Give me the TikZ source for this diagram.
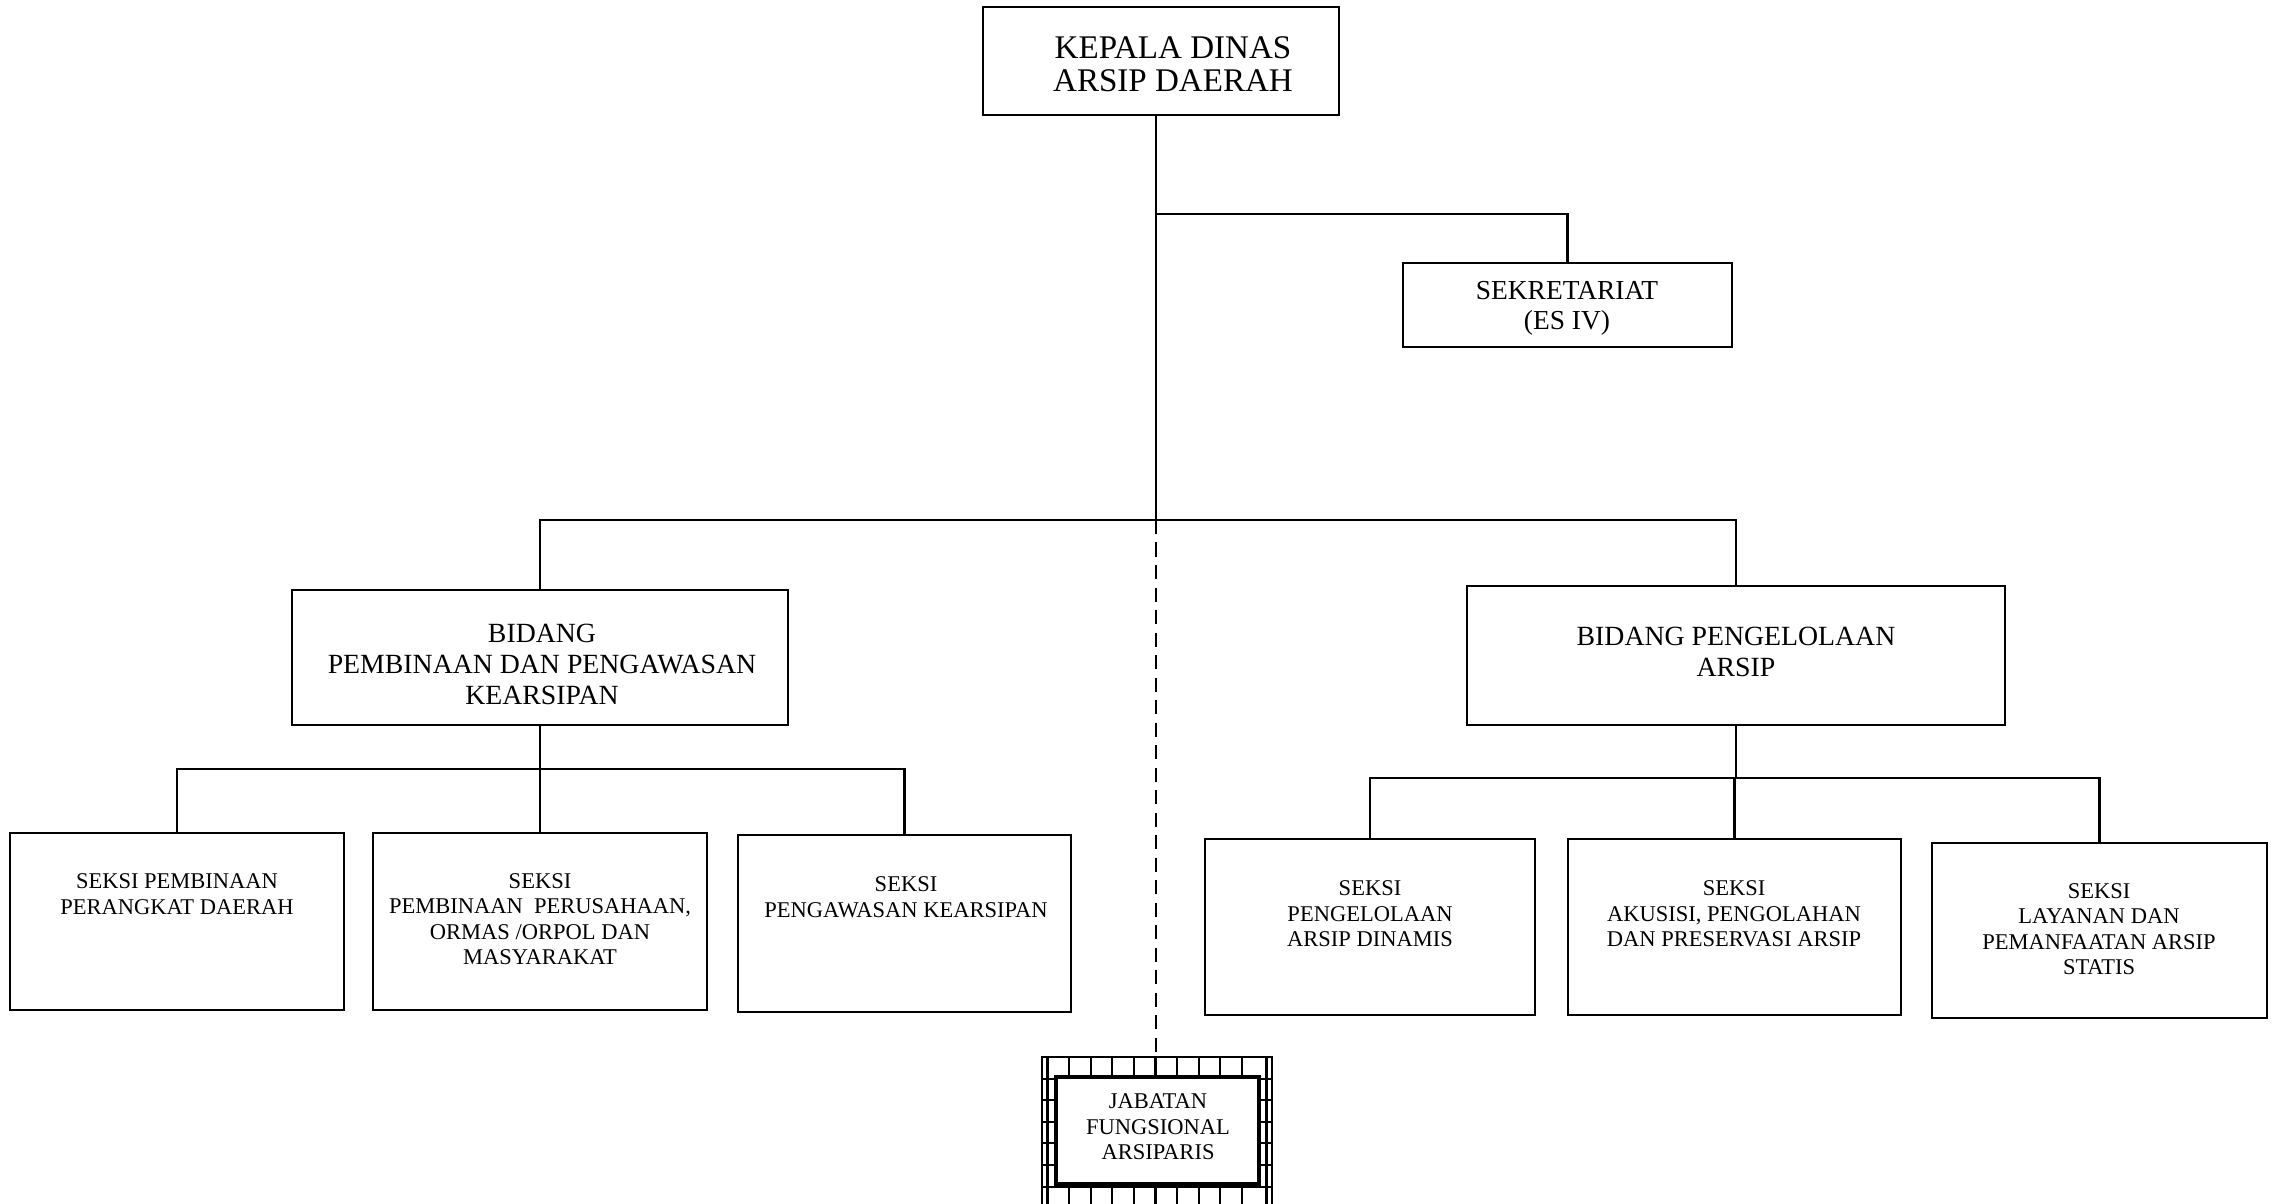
\documentclass[tikz,border=0pt]{standalone}
\usepackage{fontspec}
\setmainfont{Liberation Serif}
\usetikzlibrary{fit}
\tikzset{
  x=0.01cm, y=-0.01cm,
  box/.style={draw, line width=0.75pt, inner sep=0pt, fill=white},
  conn/.style={line width=0.6pt},
  dashconn/.style={line width=0.6pt, dash pattern=on 4pt off 2.4pt},
  gridline/.style={line width=0.6pt},
  titletext/.style={align=center, inner sep=0pt, font=\fontsize{9.4}{9.5}\selectfont},
  sektext/.style={align=center, inner sep=0pt, font=\fontsize{7.8}{8.5}\selectfont},
  bidtext/.style={align=center, inner sep=0pt, font=\fontsize{7.9}{8.8}\selectfont},
  smalltext/.style={align=center, inner sep=0pt, font=\fontsize{6.4}{7.25}\selectfont},
}
\begin{document}
\begin{tikzpicture}
\useasboundingbox (0,0) rectangle (2272,1204);
\clip (0,0) rectangle (2272,1204);

% boxes
\node[box, fit={(983,7) (1339,115)}] (top) {};
\node[titletext] (toptext) at (1173,64) {KEPALA DINAS\\ARSIP DAERAH};

\node[box, fit={(1403,263) (1732,347)}] (sek) {};
\node[sektext] (sektxt) at (1567,308) {SEKRETARIAT\\(ES IV)};

\node[box, fit={(292,590) (788,725)}] (bid1) {};
\node[bidtext] (bid1txt) at (542,664) {BIDANG\\PEMBINAAN DAN PENGAWASAN\\KEARSIPAN};

\node[box, fit={(1467,586) (2005,725)}] (bid2) {};
\node[bidtext] (bid2txt) at (1736,652) {BIDANG PENGELOLAAN\\ARSIP};

\node[box, fit={(10,833) (344,1010)}] (s1) {};
\node[smalltext] (s1t) at (177,894) {SEKSI PEMBINAAN\\PERANGKAT DAERAH};
\node[box, fit={(373,833) (707,1010)}] (s2) {};
\node[smalltext] (s2t) at (540,919) {SEKSI\\PEMBINAAN\ \ PERUSAHAAN,\\ORMAS /ORPOL DAN\\MASYARAKAT};
\node[box, fit={(738,835) (1071,1012)}] (s3) {};
\node[smalltext] (s3t) at (906,897) {SEKSI\\PENGAWASAN KEARSIPAN};

\node[box, fit={(1205,839) (1535,1015)}] (s4) {};
\node[smalltext] (s4t) at (1370,914) {SEKSI\\PENGELOLAAN\\ARSIP DINAMIS};
\node[box, fit={(1568,839) (1901,1015)}] (s5) {};
\node[smalltext] (s5t) at (1734,914) {SEKSI\\AKUSISI, PENGOLAHAN\\DAN PRESERVASI ARSIP};
\node[box, fit={(1932,843) (2267,1018)}] (s6) {};
\node[smalltext] (s6t) at (2099,929) {SEKSI\\LAYANAN DAN\\PEMANFAATAN ARSIP\\STATIS};

% jabatan fungsional (grid-hatched frame)
\node[draw, line width=0.75pt, inner sep=0pt, fit={(1042,1057) (1272,1230)}] (jab) {};
\begin{scope}
  \clip (jab.south west) rectangle (jab.north east);
  \foreach \k in {0,...,9} \draw[gridline] ({1047.5+21.6*\k},1057) -- ({1047.5+21.6*\k},1230);
  \draw[gridline] (1266.5,1057) -- (1266.5,1230);
  \foreach \k in {0,...,8} \draw[gridline] (1042,{1057+21.6*\k}) -- (1272,{1057+21.6*\k});
\end{scope}
\node[box, line width=1pt, fit={(1056,1077) (1259,1184)}] (jabin) {};
\node[smalltext] (jabt) at (1158,1127) {JABATAN\\FUNGSIONAL\\ARSIPARIS};

% connectors
\coordinate (jA) at (1156,214);
\coordinate (jB) at (1156,520);
\coordinate (jL) at (540,769);
\coordinate (jR) at (1736,778);

\draw[conn] (top.south -| jA) -- (jB);
\draw[conn] (jA) -| (sek.north);
\draw[conn] (bid1.north) |- (jB);
\draw[conn] (bid2.north) |- (jB);
\draw[dashconn] (jB) -- (jB |- jab.north);

\draw[conn] (bid1.south) -- (jL);
\draw[conn] (s1.north) |- (jL);
\draw[conn] (s2.north) |- (jL);
\draw[conn] (s3.north) |- (jL);

\draw[conn] (bid2.south) -- (jR);
\draw[conn] (s4.north) |- (jR);
\draw[conn] (s5.north) |- (jR);
\draw[conn] (s6.north) |- (jR);
\end{tikzpicture}
\end{document}
